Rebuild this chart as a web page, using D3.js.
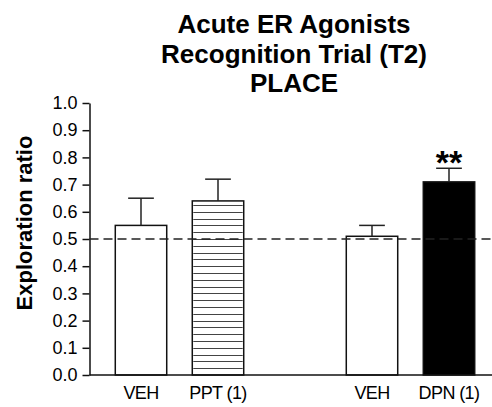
<!DOCTYPE html>
<html>
<head>
<meta charset="utf-8">
<title>Acute ER Agonists</title>
<script src="https://d3js.org/d3.v7.min.js"></script>
<style>
  body { margin: 0; background: #fff; }
  text { font-family: "Liberation Sans", Arial, sans-serif; fill: #000; }
</style>
</head>
<body>
<div id="plot"></div>
<script>
// data
var labels = ['VEH', 'PPT (1)', 'VEH', 'DPN (1)']
var slots = [0, 1, 3, 4]            // position along x, gap between the two groups
var means = [0.55, 0.64, 0.51, 0.71]
var sems = [0.10, 0.08, 0.04, 0.05]
var styles = ['white', 'hatch', 'white', 'black']
var stars = ['', '', '', '**']
var yTicks = [0, 0.1, 0.2, 0.3, 0.4, 0.5, 0.6, 0.7, 0.8, 0.9, 1.0]
var chance = 0.5
var titleLines = ['Acute ER Agonists', 'Recognition Trial (T2)', 'PLACE']

var W = 492, H = 407
var svg = d3.select('#plot').append('svg')
  .attr('width', W).attr('height', H)

var axisX = 89.5
var yScale = d3.scaleLinear().domain([0, 1]).range([375, 103])
var xScale = d3.scaleLinear().domain([0, 4]).range([141, 449])
var barW = (xScale(1) - xScale(0)) * 0.668

// title
svg.selectAll('.title')
  .data(titleLines).enter()
  .append('text')
    .attr('class', 'title')
    .attr('x', 294)
    .attr('y', function(d, i){ return 33 + i * 29.5 })
    .attr('text-anchor', 'middle')
    .style('font-size', '26px')
    .style('font-weight', 'bold')
    .text(function(d){ return d })

// y axis
var yAxis = svg.append('g')
  .attr('transform', 'translate(' + axisX + ',0)')
  .call(d3.axisLeft(yScale).tickValues(yTicks).tickFormat(d3.format('.1f')).tickSize(7).tickSizeOuter(0))
yAxis.select('.domain').attr('stroke', '#111').attr('stroke-width', 1.5)
yAxis.selectAll('.tick line').attr('stroke', '#111').attr('stroke-width', 1.5)
yAxis.selectAll('.tick text')
  .attr('x', -12)
  .style('font-size', '18px')
  .style('font-family', '"Liberation Sans", Arial, sans-serif')
  .attr('fill', '#000')

svg.append('text')
  .attr('transform', 'translate(32,' + 223 + ') rotate(-90)')
  .attr('text-anchor', 'middle')
  .style('font-size', '22px')
  .style('font-weight', 'bold')
  .text('Exploration ratio')

// bars
var bars = svg.selectAll('.bar')
  .data(means).enter()
  .append('g').attr('class', 'bar')

bars.append('rect')
  .attr('x', function(d, i){ return xScale(slots[i]) - barW / 2 })
  .attr('y', function(d){ return yScale(d) })
  .attr('width', barW)
  .attr('height', function(d){ return yScale(0) - yScale(d) })
  .attr('fill', function(d, i){ return styles[i] == 'black' ? '#000' : '#fff' })
  .attr('stroke', '#111')
  .attr('stroke-width', 1.5)

// horizontal hatching for PPT bar
means.forEach(function(m, i){
  if (styles[i] != 'hatch') return
  var lines = d3.range(0.025, m - 0.005, 0.025)
  svg.selectAll('.hatch' + i)
    .data(lines).enter()
    .append('line')
      .attr('x1', xScale(slots[i]) - barW / 2 + 1)
      .attr('x2', xScale(slots[i]) + barW / 2 - 1)
      .attr('y1', function(d){ return Math.round(yScale(d)) + 0.5 })
      .attr('y2', function(d){ return Math.round(yScale(d)) + 0.5 })
      .attr('stroke', '#444')
      .attr('stroke-width', 1)
})

// error bars (upper only)
bars.append('line')
  .attr('x1', function(d, i){ return xScale(slots[i]) })
  .attr('x2', function(d, i){ return xScale(slots[i]) })
  .attr('y1', function(d){ return yScale(d) })
  .attr('y2', function(d, i){ return yScale(d + sems[i]) })
  .attr('stroke', '#222').attr('stroke-width', 1.5)
bars.append('line')
  .attr('x1', function(d, i){ return xScale(slots[i]) - barW / 4 })
  .attr('x2', function(d, i){ return xScale(slots[i]) + barW / 4 })
  .attr('y1', function(d, i){ return yScale(d + sems[i]) })
  .attr('y2', function(d, i){ return yScale(d + sems[i]) })
  .attr('stroke', '#222').attr('stroke-width', 1.5)

// significance stars
bars.append('text')
  .attr('x', function(d, i){ return xScale(slots[i]) })
  .attr('y', function(d, i){ return yScale(d + sems[i]) + 6 })
  .attr('text-anchor', 'middle')
  .style('font-size', '34px')
  .style('font-weight', 'bold')
  .text(function(d, i){ return stars[i] })

// chance line
svg.append('line')
  .attr('x1', axisX).attr('x2', W)
  .attr('y1', yScale(chance)).attr('y2', yScale(chance))
  .attr('stroke', '#222').attr('stroke-width', 1.5)
  .attr('stroke-dasharray', '9,5')

// baseline
svg.append('line')
  .attr('x1', axisX).attr('x2', W)
  .attr('y1', yScale(0)).attr('y2', yScale(0))
  .attr('stroke', '#111').attr('stroke-width', 1.5)

// category labels
svg.selectAll('.xlab')
  .data(labels).enter()
  .append('text')
    .attr('class', 'xlab')
    .attr('x', function(d, i){ return xScale(slots[i]) })
    .attr('y', 399)
    .attr('text-anchor', 'middle')
    .style('font-size', '18px')
    .style('letter-spacing', '-0.6px')
    .text(function(d){ return d })
</script>
</body>
</html>
